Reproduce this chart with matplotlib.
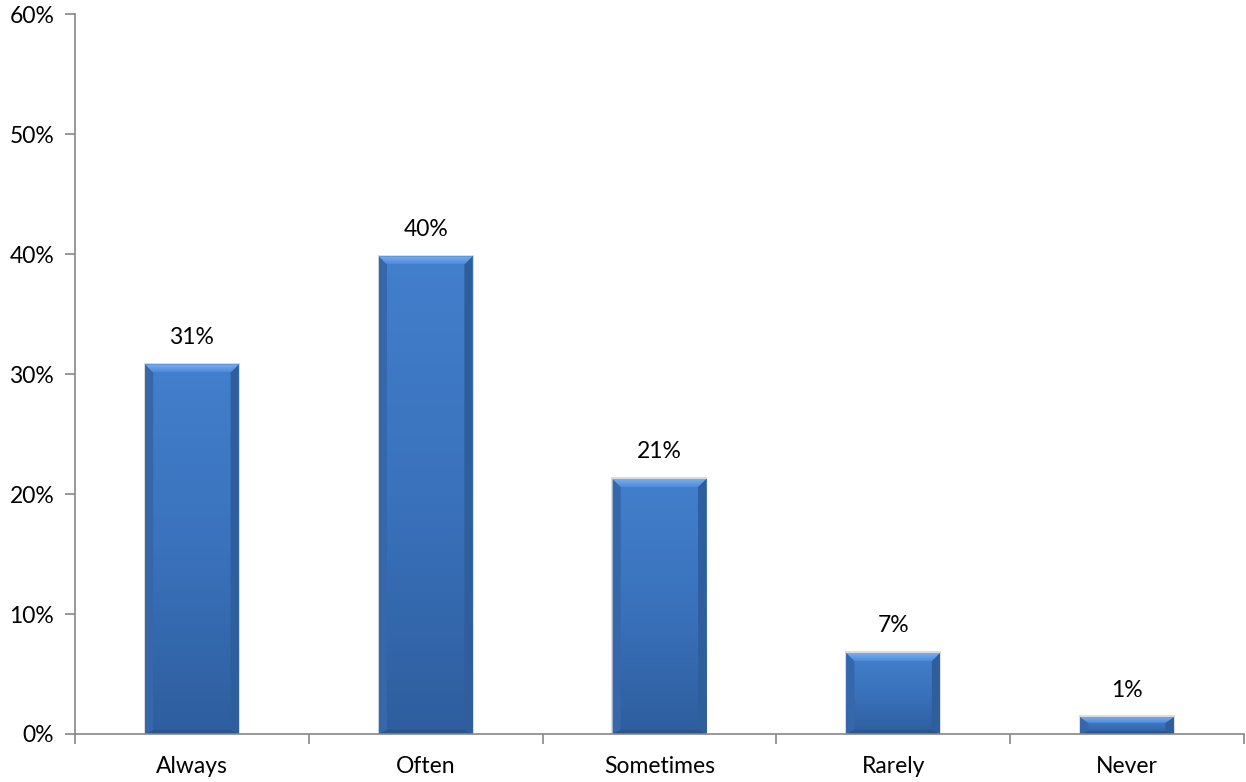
import matplotlib
matplotlib.use("Agg")
import matplotlib.pyplot as plt
import numpy as np
from matplotlib.patches import Polygon
from matplotlib.ticker import FuncFormatter, FixedLocator

categories = ["Always", "Often", "Sometimes", "Rarely", "Never"]
values = [30.8, 39.8, 21.25, 6.75, 1.4]
labels = ["31%", "40%", "21%", "7%", "1%"]

plt.rcParams["font.family"] = ["Lato", "DejaVu Sans"]

fig = plt.figure(figsize=(12.46, 7.82), dpi=100)
ax = fig.add_axes([0.0602, 0.0614, 0.938, 0.9206])

x = np.arange(len(categories))
width = 0.4
bars = ax.bar(x, values, width=width, color="#3B74C0", edgecolor="none", zorder=2)

ax.set_xlim(-0.5, len(categories) - 0.5)
ax.set_ylim(0, 60)

# bevel size, roughly 8 px converted to data units
bx = 8 / 233
by = 8 / 12

grad = np.linspace(0, 1, 100).reshape(-1, 1)
cmap = matplotlib.colors.LinearSegmentedColormap.from_list(
    "bar", ["#2E5E9E", "#3A72BC", "#427FCC"])
top_cmap = matplotlib.colors.LinearSegmentedColormap.from_list(
    "top", ["#4F8ADA", "#78AEEE"])
for rect, v, lab in zip(bars, values, labels):
    x0 = rect.get_x()
    x1 = x0 + rect.get_width()
    y0, y1 = 0, v
    # soft shadow
    ax.add_patch(Polygon([[x0 - 0.005, y0], [x0 - 0.005, y1 + 0.15],
                          [x1 + 0.005, y1 + 0.15], [x1 + 0.005, y0]],
                         closed=True, facecolor="#dcdcdc", edgecolor="none", zorder=1.5))
    im = ax.imshow(grad, extent=[x0, x1, y0, y1], origin="lower", cmap=cmap,
                   aspect="auto", zorder=2.1)
    im.set_clip_path(rect)
    byy = min(by, v / 3)
    # top bevel
    top = Polygon([[x0, y1], [x1, y1], [x1 - bx, y1 - byy], [x0 + bx, y1 - byy]],
                  closed=True, facecolor="none", edgecolor="none", zorder=2.3)
    ax.add_patch(top)
    tim = ax.imshow(grad, extent=[x0, x1, y1 - byy, y1], origin="lower", cmap=top_cmap,
                    aspect="auto", zorder=2.3)
    tim.set_clip_path(top)
    # left bevel
    ax.add_patch(Polygon([[x0, y1], [x0 + bx, y1 - byy], [x0 + bx, y0 + byy * 0.5], [x0, y0]],
                         closed=True, facecolor="#3567AA", edgecolor="none", zorder=2.2))
    # right bevel
    ax.add_patch(Polygon([[x1, y1], [x1 - bx, y1 - byy], [x1 - bx, y0 + byy * 0.5], [x1, y0]],
                         closed=True, facecolor="#2F5E9C", edgecolor="none", zorder=2.2))
    # bottom bevel
    ax.add_patch(Polygon([[x0, y0], [x0 + bx, y0 + byy * 0.5], [x1 - bx, y0 + byy * 0.5], [x1, y0]],
                         closed=True, facecolor="#2A5490", edgecolor="none", zorder=2.2))
    ax.annotate(lab, (rect.get_x() + rect.get_width() / 2, v), xytext=(0, 12),
                textcoords="offset points", ha="center", va="bottom", fontsize=16.5,
                color="#000000")

ax.set_xticks(x)
ax.set_xticklabels(categories, fontsize=16.5)
ax.xaxis.set_minor_locator(FixedLocator(np.arange(-0.5, len(categories), 1.0)))
ax.tick_params(axis="x", which="major", length=0, pad=16)
ax.tick_params(axis="x", which="minor", length=7, direction="out", color="#868686", width=1.2)
ax.set_yticks(np.arange(0, 61, 10))
ax.yaxis.set_major_formatter(FuncFormatter(lambda v, p: f"{v:.0f}%"))
ax.tick_params(axis="y", length=7, direction="out", color="#868686", width=1.2,
               labelsize=16.5, pad=8)

for s in ["top", "right"]:
    ax.spines[s].set_visible(False)
for s in ["left", "bottom"]:
    ax.spines[s].set_color("#868686")
    ax.spines[s].set_linewidth(1.2)

fig.savefig("out.png", dpi=100)
